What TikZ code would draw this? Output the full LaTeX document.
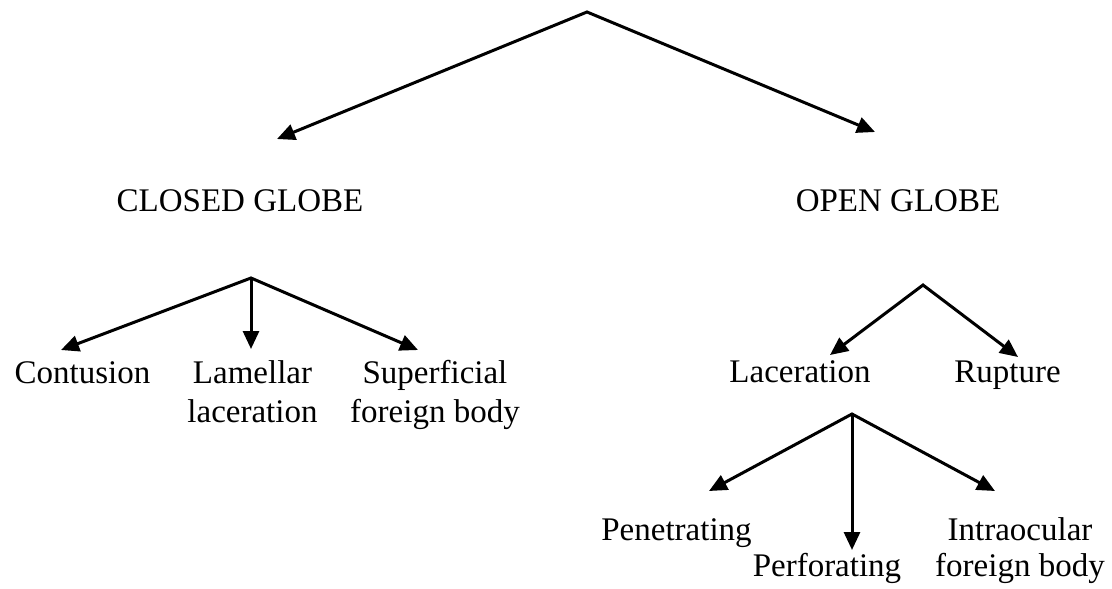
\documentclass[tikz,border=0pt]{standalone}
\usepackage{fontspec}
\setmainfont{Liberation Serif}
\usetikzlibrary{arrows.meta,calc}
\begin{document}
\begin{tikzpicture}[x=1pt,y=-1pt,
  lbl/.style={font=\fontsize{33}{39}\selectfont, inner sep=0pt, anchor=base, align=center},
  lblr/.style={font=\fontsize{33}{36}\selectfont, inner sep=0pt, anchor=base, align=center},
  arr/.style={line width=3pt, line join=miter, -{Triangle[length=18pt,width=16pt]}},
  arr2/.style={line width=3pt, line join=miter, {Triangle[length=18pt,width=16pt]}-{Triangle[length=18pt,width=16pt]}}]
\useasboundingbox (0,0) rectangle (1112,589);
% nodes (base = baseline of the last line)
\node[lbl] (closed) at (240,211) {CLOSED GLOBE};
\node[lbl] (open) at (898,211) {OPEN GLOBE};
\node[lbl] (contusion) at (82.5,383) {Contusion};
\node[lbl] (lamellar) at (252.5,422) {Lamellar\\laceration};
\node[lbl] (superficial) at (435,422) {Superficial\\foreign body};
\node[lbl] (laceration) at (800,382) {Laceration};
\node[lbl] (rupture) at (1007.5,382) {Rupture};
\node[lbl] (penetrating) at (676.5,540) {Penetrating};
\node[lbl] (perforating) at (827,576) {Perforating};
\node[lblr] (intraocular) at (1020,576) {Intraocular\\foreign body};
% branch points
\coordinate (top) at (587,12);
\coordinate (capex) at (251,278);
\coordinate (oapex) at (923,285);
\coordinate (lapex) at (852,414);
% connectors
\draw[arr2] ($(closed.base)+(37,-72)$) -- (top) -- ($(open.base)+(-23,-79)$);
\draw[arr2] ($(contusion.base)+(-21.5,-33)$) -- (capex) -- ($(superficial.base)+(-17,-72)$);
\draw[arr] (capex) -- (capex |- {$(lamellar.base)+(0,-73)$});
\draw[arr2] ($(laceration.base)+(30,-27)$) -- (oapex) -- ($(rupture.base)+(10.5,-25)$);
\draw[arr2] ($(penetrating.base)+(32.5,-49)$) -- (lapex) -- ($(intraocular.base)+(-25,-85)$);
\draw[arr] (lapex) -- (lapex |- {$(perforating.base)+(0,-26)$});
\end{tikzpicture}
\end{document}
